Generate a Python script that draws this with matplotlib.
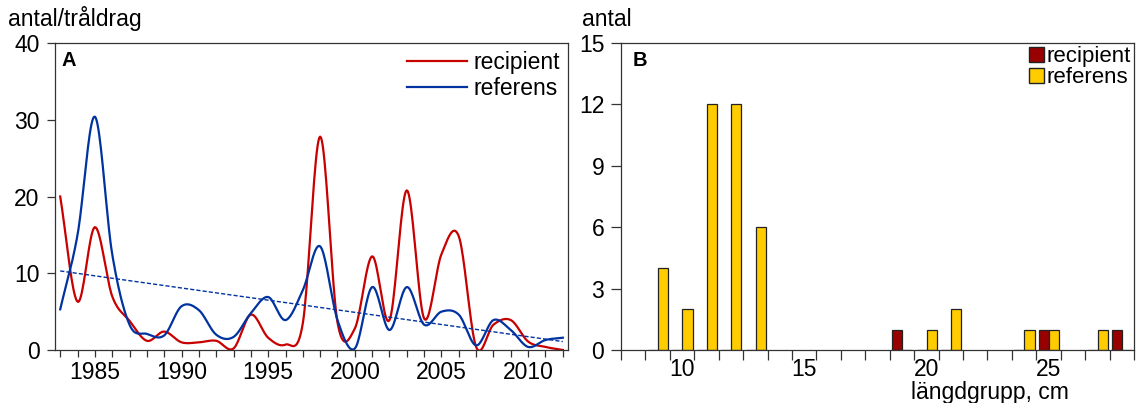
#!/usr/bin/env python3
"""Trawl catches: yearly catch per haul (A) and length distribution (B)."""

import numpy as np
import matplotlib
matplotlib.use("Agg")
import matplotlib.pyplot as plt
from matplotlib.patches import Patch

plt.rcParams['font.family'] = ['Liberation Sans', 'DejaVu Sans']

# --- panel A: antal/tråldrag per year ---
years = list(range(1983, 2013))
recipient = [20.0, 6.3, 16.0, 7.0, 3.8, 1.2, 2.4, 1.0, 1.0, 1.2, 0.2, 4.6,
             1.6, 0.7, 3.5, 27.8, 3.6, 2.8, 12.2, 3.9, 20.8, 4.1, 12.5, 14.8,
             0.4, 3.3, 3.9, 1.1, 0.4, 0.0]
referens = [5.3, 15.0, 30.4, 12.5, 3.3, 2.1, 1.9, 5.7, 5.2, 2.0, 1.7, 4.8,
            6.9, 3.9, 7.8, 13.5, 3.9, 0.2, 8.2, 2.6, 8.2, 3.3, 5.0, 4.6,
            0.6, 3.9, 2.6, 0.4, 1.3, 1.6]
trend_years = [1983, 2012]
trend_values = [10.3, 1.1]

# --- panel B: antal per längdgrupp ---
length_groups = [9, 10, 11, 12, 13, 19, 20, 21, 24, 25, 27, 28]
b_recipient = [0, 0, 0, 0, 0, 1, 0, 0, 0, 1, 0, 1]
b_referens = [4, 2, 12, 12, 6, 0, 1, 2, 1, 1, 1, 0]

RED = '#c80000'
BLUE = '#0033a0'
BAR_RED = '#990000'
BAR_YELLOW = '#ffcc00'
FS = 16.5


def smooth_curve(x, y, n=20):
    """Catmull-Rom curve through the yearly points."""
    x = np.asarray(x, float)
    y = np.asarray(y, float)
    m = np.gradient(y, x)
    xs, ys = [], []
    for i in range(len(x) - 1):
        h = x[i + 1] - x[i]
        t = np.linspace(0, 1, n, endpoint=False)
        h00 = 2 * t ** 3 - 3 * t ** 2 + 1
        h10 = t ** 3 - 2 * t ** 2 + t
        h01 = -2 * t ** 3 + 3 * t ** 2
        h11 = t ** 3 - t ** 2
        xs.append(x[i] + t * h)
        ys.append(h00 * y[i] + h10 * h * m[i] + h01 * y[i + 1] + h11 * h * m[i + 1])
    xs.append([x[-1]])
    ys.append([y[-1]])
    return np.concatenate(xs), np.concatenate(ys)


fig = plt.figure(figsize=(11.36, 4.03), dpi=100)
axA = fig.add_axes([55 / 1136, 53 / 403, 513 / 1136, 307 / 403])
axB = fig.add_axes([621 / 1136, 53 / 403, 513 / 1136, 307 / 403])

for ax in (axA, axB):
    for s in ax.spines.values():
        s.set_linewidth(0.9)
        s.set_color('#333333')
    ax.tick_params(labelsize=FS, width=0.9, color='#333333', direction='out',
                   top=False, right=False)

# panel A
sx, sy = smooth_curve(years, recipient)
axA.plot(sx, sy, color=RED, lw=1.6, label='recipient')
sx, sy = smooth_curve(years, referens)
axA.plot(sx, sy, color=BLUE, lw=1.6, label='referens')
axA.plot(trend_years, trend_values, color=BLUE, lw=1.0, ls=(0, (3, 1.5)))

axA.set_xlim(1982.7, 2012.3)
axA.set_ylim(0, 40)
axA.set_yticks([0, 10, 20, 30, 40])
axA.set_xticks(years)
axA.set_xticklabels([str(y) if y % 5 == 0 else '' for y in years])
axA.tick_params(axis='x', length=5, pad=3)
axA.tick_params(axis='y', length=6, pad=5)
axA.text(0.013, 0.975, 'A', transform=axA.transAxes, fontsize=14.5,
         fontweight='bold', va='top', ha='left')
axA.legend(loc='upper right', frameon=False, fontsize=FS, handlelength=2.6,
           handletextpad=0.3, labelspacing=0.12, borderaxespad=0.15,
           borderpad=0.2)
fig.text(8 / 1136, (403 - 26) / 403, 'antal/tråldrag', fontsize=FS,
         va='baseline', ha='left')

# panel B
w = 0.42
xg = np.array(length_groups)
axB.bar(xg - 0.19, b_recipient, width=w, color=BAR_RED, edgecolor='#222222',
        linewidth=0.9)
axB.bar(xg + 0.22, b_referens, width=w, color=BAR_YELLOW, edgecolor='#222222',
        linewidth=0.9)
axB.set_xlim(7.5, 28.5)
axB.set_ylim(0, 15)
axB.set_yticks([0, 3, 6, 9, 12, 15])
axB.set_xticks([10, 15, 20, 25])
axB.set_xticks(np.arange(7.5, 29, 1.0), minor=True)
axB.tick_params(axis='x', which='major', length=0, pad=6)
axB.tick_params(axis='x', which='minor', length=7, width=0.9, color='#333333')
axB.tick_params(axis='y', length=7, pad=5)
axB.text(0.022, 0.975, 'B', transform=axB.transAxes, fontsize=14.5,
         fontweight='bold', va='top', ha='left')
handles = [Patch(facecolor=BAR_RED, edgecolor='#222222', label='recipient'),
           Patch(facecolor=BAR_YELLOW, edgecolor='#222222', label='referens')]
axB.legend(handles=handles, loc='upper right', frameon=False, fontsize=16,
           handlelength=0.7, handleheight=0.7, handletextpad=0.1,
           labelspacing=0.0, borderaxespad=0.05, borderpad=0.1)
fig.text(582 / 1136, (403 - 26) / 403, 'antal', fontsize=FS,
         va='baseline', ha='left')
fig.text(990 / 1136, (403 - 392) / 403, 'längdgrupp, cm', fontsize=FS,
         va='center', ha='center')

fig.savefig('out.png', dpi=100)
